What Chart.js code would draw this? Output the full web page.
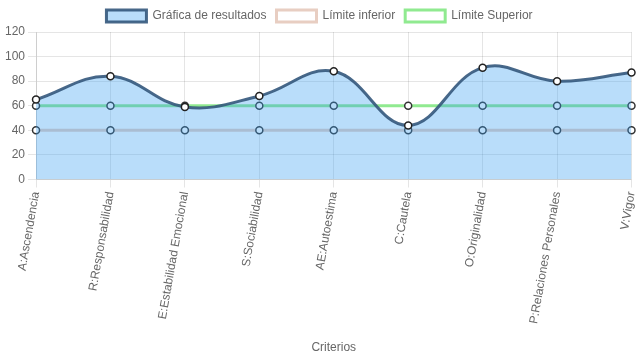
<!DOCTYPE html>
<html>
<head>
<meta charset="utf-8">
<script src="https://cdn.jsdelivr.net/npm/chart.js@4/dist/chart.umd.min.js"></script>
<style>
html,body{margin:0;padding:0;background:#fff;}
#wrap{width:637px;height:359px;}
</style>
</head>
<body>
<div id="wrap"><canvas id="c" width="637" height="359"></canvas></div>
<script>
const categories = ["A:Ascendencia","R:Responsabilidad","E:Estabilidad Emocional","S:Sociabilidad","AE:Autoestima","C:Cautela","O:Originalidad","P:Relaciones Personales","V:Vigor"];
const resultados = [65, 84, 59, 68, 88, 44, 91, 80, 87];
const limiteInferior = [40, 40, 40, 40, 40, 40, 40, 40, 40];
const limiteSuperior = [60, 60, 60, 60, 60, 60, 60, 60, 60];
const yTicks = [0, 20, 40, 60, 80, 100, 120];

Chart.defaults.font.family = "'Liberation Sans', Arial, Helvetica, sans-serif";
Chart.defaults.font.size = 12;
Chart.defaults.color = '#666';

new Chart(document.getElementById('c'), {
  type: 'line',
  data: {
    labels: categories,
    datasets: [
      {
        label: 'Gráfica de resultados',
        data: resultados,
        borderColor: 'rgba(52,88,124,0.9)',
        backgroundColor: 'rgba(54,158,240,0.35)',
        borderWidth: 3,
        fill: 'origin',
        tension: 0.4,
        pointRadius: 3.5,
        pointBorderWidth: 1.5,
        pointBackgroundColor: '#fff',
        pointBorderColor: '#222'
      },
      {
        label: 'Límite inferior',
        data: limiteInferior,
        borderColor: 'rgb(232,206,194)',
        backgroundColor: 'rgba(255,255,255,0)',
        borderWidth: 3,
        fill: false,
        tension: 0.4,
        pointRadius: 3.5,
        pointBorderWidth: 1.5,
        pointBackgroundColor: '#fff',
        pointBorderColor: '#333'
      },
      {
        label: 'Límite Superior',
        data: limiteSuperior,
        borderColor: 'rgb(144,234,144)',
        backgroundColor: 'rgba(255,255,255,0)',
        borderWidth: 3,
        fill: false,
        tension: 0.4,
        pointRadius: 3.5,
        pointBorderWidth: 1.5,
        pointBackgroundColor: '#fff',
        pointBorderColor: '#333'
      }
    ]
  },
  options: {
    responsive: false,
    animation: false,
    layout: { padding: { right: 0, left: 2, top: 0, bottom: 0 } },
    plugins: {
      legend: {
        labels: { boxWidth: 40, boxHeight: 12, padding: 10, font: { size: 12 } }
      },
      tooltip: { enabled: false }
    },
    scales: {
      x: {
        title: { display: true, text: 'Criterios', font: { size: 12 }, padding: { top: 20 } },
        grid: { color: 'rgba(0,0,0,0.1)' },
        ticks: { minRotation: 80, maxRotation: 80, autoSkip: false },
        afterFit: (scale) => { scale.paddingRight = 0; scale.paddingLeft = 0; }
      },
      y: {
        min: 0, max: 120,
        afterBuildTicks: (axis) => { axis.ticks = yTicks.map(v => ({ value: v })); },
        afterFit: (scale) => { scale.paddingRight = 0; scale.paddingLeft = 0; },
        grid: { color: 'rgba(0,0,0,0.1)' },
        ticks: { stepSize: 20 }
      }
    }
  }
});
</script>
</body>
</html>
